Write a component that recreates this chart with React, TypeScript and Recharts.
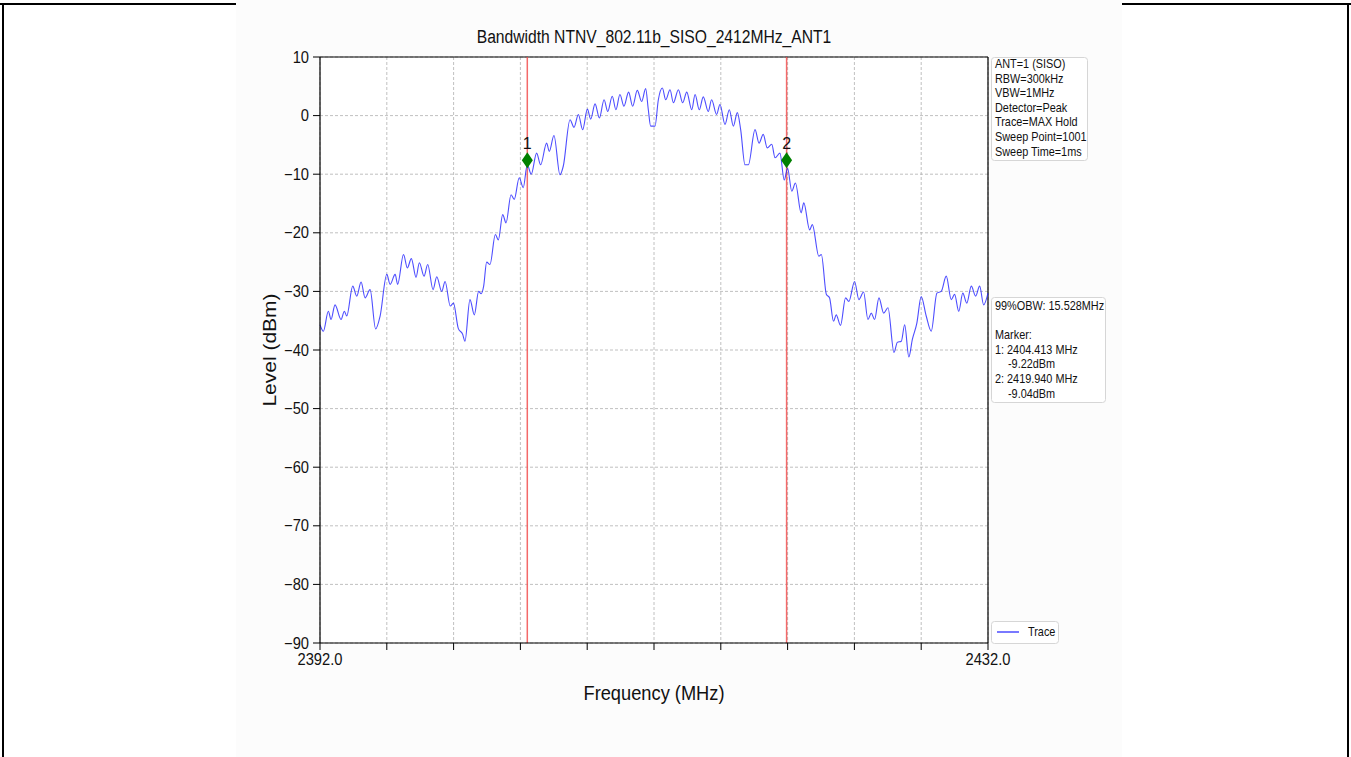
import React from 'react'
import {
  LineChart,
  Line,
  XAxis,
  YAxis,
  CartesianGrid,
  ReferenceLine,
  ReferenceDot,
} from 'recharts'

// trace (MHz / dBm)
const freqs = [
  2392.0, 2392.2, 2392.5, 2392.66, 2392.9, 2393.26, 2393.46, 2393.6, 2393.96, 2394.2,
  2394.46, 2394.7, 2395.0, 2395.33, 2395.6, 2396.0, 2396.2, 2396.5, 2396.65, 2397.0,
  2397.23, 2397.47, 2397.75, 2397.95, 2398.23, 2398.45, 2398.77, 2398.99, 2399.29, 2399.49,
  2399.8, 2399.99, 2400.28, 2400.54, 2400.68, 2400.98, 2401.24, 2401.5, 2401.65, 2401.8,
  2401.98, 2402.18, 2402.5, 2402.68, 2402.94, 2403.14, 2403.44, 2403.63, 2403.93, 2404.17,
  2404.41, 2404.65, 2404.97, 2405.21, 2405.57, 2405.73, 2406.01, 2406.37, 2406.57, 2406.97,
  2407.21, 2407.47, 2407.73, 2408.01, 2408.21, 2408.47, 2408.73, 2409.01, 2409.23, 2409.5,
  2409.72, 2409.96, 2410.2, 2410.48, 2410.72, 2411.0, 2411.26, 2411.5, 2411.66, 2411.8,
  2412.06, 2412.26, 2412.5, 2412.7, 2412.96, 2413.16, 2413.46, 2413.72, 2413.96, 2414.26,
  2414.46, 2414.71, 2414.95, 2415.25, 2415.45, 2415.75, 2415.95, 2416.25, 2416.51, 2416.75,
  2416.99, 2417.19, 2417.45, 2417.65, 2418.05, 2418.29, 2418.54, 2418.78, 2419.05, 2419.25,
  2419.54, 2419.8, 2420.0, 2420.25, 2420.47, 2420.81, 2420.97, 2421.32, 2421.48, 2421.87,
  2422.02, 2422.32, 2422.51, 2422.75, 2422.91, 2423.17, 2423.47, 2423.67, 2424.01, 2424.27,
  2424.55, 2424.81, 2425.01, 2425.21, 2425.47, 2425.75, 2426.01, 2426.37, 2426.57, 2426.81,
  2427.01, 2427.26, 2427.47, 2427.74, 2428.0, 2428.3, 2428.6, 2428.94, 2429.2, 2429.5,
  2429.8, 2430.0, 2430.25, 2430.49, 2430.73, 2431.0, 2431.26, 2431.5, 2431.74, 2432.0,
]
const levels = [
  -35.7, -36.8, -33.4, -34.8, -32.3, -34.8, -33.4, -34.2, -29.1, -30.8,
  -28.4, -31.1, -29.7, -36.4, -34.2, -27.1, -28.8, -27.1, -28.8, -23.7,
  -26.0, -24.4, -27.6, -25.1, -27.4, -25.4, -29.7, -27.5, -30.0, -28.3,
  -32.5, -32.0, -36.3, -37.3, -38.5, -31.4, -34.0, -30.0, -30.4, -29.1,
  -25.0, -25.4, -20.3, -21.2, -16.9, -18.3, -13.5, -14.3, -10.6, -12.3,
  -8.4, -10.0, -6.4, -8.4, -4.7, -6.1, -3.4, -10.1, -8.6, -0.7,
  -2.0, 0.2, -2.4, 1.1, -0.6, 2.0, -0.4, 2.7, 0.7, 3.3,
  1.0, 3.6, 1.6, 4.0, 1.6, 4.3, 2.4, 4.6, 1.0, -1.8,
  -1.8, 2.7, 4.7, 2.7, 4.4, 2.2, 4.4, 2.2, 4.0, 1.0,
  3.6, 1.0, 3.2, 0.7, 2.7, 0.2, 1.9, -1.5, 1.0, -1.8,
  0.5, -2.4, -8.4, -8.4, -2.4, -4.7, -3.2, -5.5, -4.9, -7.2,
  -6.4, -11.0, -9.0, -12.9, -11.5, -16.6, -14.9, -19.5, -18.6, -24.0,
  -23.7, -30.5, -31.1, -35.1, -34.0, -35.8, -31.1, -31.7, -28.3, -31.4,
  -30.1, -34.8, -33.7, -34.8, -31.1, -33.7, -32.8, -40.4, -38.7, -38.5,
  -35.7, -41.2, -38.2, -35.4, -30.9, -34.2, -36.8, -30.3, -30.0, -27.4,
  -31.4, -30.5, -33.4, -30.3, -32.0, -29.1, -30.8, -29.1, -32.3, -30.3,
]

const xTicks = [2392, 2396, 2400, 2404, 2408, 2412, 2416, 2420, 2424, 2428, 2432]
const xLabelled = [2392, 2432]
const yTicks = [10, 0, -10, -20, -30, -40, -50, -60, -70, -80, -90]

const markerFreqs = [2404.413, 2419.94]
const markerLevels = [-7.6, -7.6]
const markerNames = ['1', '2']

const settingsLines = [
  'ANT=1 (SISO)',
  'RBW=300kHz',
  'VBW=1MHz',
  'Detector=Peak',
  'Trace=MAX Hold',
  'Sweep Point=1001',
  'Sweep Time=1ms',
]
const resultLines = [
  { text: '99%OBW: 15.528MHz', indent: 0 },
  { text: '', indent: 0 },
  { text: 'Marker:', indent: 0 },
  { text: '1: 2404.413 MHz', indent: 0 },
  { text: '-9.22dBm', indent: 13 },
  { text: '2: 2419.940 MHz', indent: 0 },
  { text: '-9.04dBm', indent: 13 },
]

const data = freqs.map((f, i) => ({ f, level: levels[i] }))

const FONT = '"Liberation Sans", Arial, sans-serif'
const SQ = 0.87 // text in the picture is a bit narrow

const fmtY = (v: number) => (v < 0 ? `\u2212${-v}` : `${v}`)

function SText({ x, y, size, anchor = 'start', fill = '#111', rotate = 0, children }: any) {
  const t = rotate
    ? `translate(${x},${y}) rotate(${rotate}) scale(1,${SQ})`
    : `translate(${x},${y}) scale(${SQ},1)`
  return (
    <text transform={t} fontSize={size} fontFamily={FONT} textAnchor={anchor} fill={fill}>
      {children}
    </text>
  )
}

function XTick({ x, y, payload }: any) {
  if (!xLabelled.includes(payload.value)) return null
  return (
    <g transform={`translate(${x},${y})`}>
      <text transform="scale(0.92,1)" dy="0.71em" textAnchor="middle" fontSize={16} fontFamily={FONT} fill="#111">
        {payload.value.toFixed(1)}
      </text>
    </g>
  )
}

function YTick({ x, y, payload }: any) {
  return (
    <g transform={`translate(${x},${y})`}>
      <text transform="scale(0.92,1)" dy="0.35em" textAnchor="end" fontSize={16} fontFamily={FONT} fill="#111">
        {fmtY(payload.value)}
      </text>
    </g>
  )
}

function Diamond(name: string) {
  return (props: any) => {
    const { cx, cy } = props
    return (
      <g>
        <path d={`M${cx},${cy - 8} L${cx + 5.5},${cy} L${cx},${cy + 8} L${cx - 5.5},${cy} Z`} fill="#008000" />
        <text x={cx} y={cy - 11} textAnchor="middle" fontSize={16} fontFamily={FONT} fill="#111">
          {name}
        </text>
      </g>
    )
  }
}

export default function App() {
  return (
    <div style={{ position: 'absolute', left: 0, top: 0, width: 1351, height: 757, background: '#fff', overflow: 'hidden' }}>
      <svg width={1351} height={757} style={{ position: 'absolute', left: 0, top: 0 }}>
        <line x1={0} y1={4} x2={1351} y2={4} stroke="#000" strokeWidth={2} />
        <line x1={3} y1={4} x2={3} y2={757} stroke="#000" strokeWidth={2} />
        <line x1={1348} y1={4} x2={1348} y2={757} stroke="#000" strokeWidth={2} />
        <rect x={236} y={0} width={886} height={757} fill="#fcfcfc" />
      </svg>

      <div style={{ position: 'absolute', left: 0, top: 0 }}>
        <LineChart width={1351} height={757} data={data} margin={{ top: 57, right: 363, bottom: 84, left: 260 }}>
          <CartesianGrid fill="#fff" stroke="#b0b0b0" strokeDasharray="3 2" strokeWidth={0.8} />
          <XAxis
            dataKey="f"
            type="number"
            domain={[2392, 2432]}
            ticks={xTicks}
            interval={0}
            height={30}
            tickSize={7}
            tickMargin={4}
            tickLine={{ stroke: '#000', strokeWidth: 1 }}
            axisLine={{ stroke: '#000', strokeWidth: 1.2 }}
            tick={<XTick />}
          />
          <YAxis
            type="number"
            domain={[-90, 10]}
            ticks={yTicks}
            interval={0}
            width={60}
            tickSize={7}
            tickMargin={4}
            tickLine={{ stroke: '#000', strokeWidth: 1 }}
            axisLine={{ stroke: '#000', strokeWidth: 1.2 }}
            tick={<YTick />}
          />
          <ReferenceLine y={10} stroke="#000" strokeWidth={1.2} />
          <ReferenceLine x={2432} stroke="#000" strokeWidth={1.2} />
          {markerFreqs.map((f) => (
            <ReferenceLine key={`l${f}`} x={f} stroke="#f25050" strokeOpacity={0.85} strokeWidth={1.5} />
          ))}
          <Line
            type="monotone"
            dataKey="level"
            stroke="#2020ff"
            strokeOpacity={0.8}
            strokeWidth={1.1}
            dot={false}
            isAnimationActive={false}
          />
          {markerFreqs.map((f, i) => (
            <ReferenceDot key={`d${f}`} x={f} y={markerLevels[i]} r={6} shape={Diamond(markerNames[i])} />
          ))}
        </LineChart>
      </div>

      <svg width={1351} height={757} style={{ position: 'absolute', left: 0, top: 0, pointerEvents: 'none' }}>
        <SText x={654} y={43} size={18} anchor="middle">
          Bandwidth NTNV_802.11b_SISO_2412MHz_ANT1
        </SText>
        <SText x={654} y={700} size={21} anchor="middle">
          Frequency (MHz)
        </SText>
        <SText x={276} y={350} size={21} anchor="middle" rotate={-90}>
          Level (dBm)
        </SText>

        <rect x={991.5} y={57.5} width={96} height={103} rx={3} fill="#fff" stroke="#d6d6d6" />
        {settingsLines.map((t, i) => (
          <SText key={t} x={995} y={68 + i * 14.6} size={12.5}>
            {t}
          </SText>
        ))}

        <rect x={991.5} y={297.5} width={114} height={105} rx={3} fill="#fff" stroke="#d6d6d6" />
        {resultLines.map((l, i) => (
          <SText key={i} x={995 + l.indent} y={310 + i * 14.6} size={12.5}>
            {l.text}
          </SText>
        ))}

        <rect x={991.5} y={621.5} width={67} height={22} rx={3} fill="#fff" stroke="#d6d6d6" />
        <line x1={997} y1={632} x2={1019} y2={632} stroke="#2020ff" strokeOpacity={0.8} strokeWidth={1.5} />
        <SText x={1028} y={636} size={12.5}>
          Trace
        </SText>
      </svg>
    </div>
  )
}
